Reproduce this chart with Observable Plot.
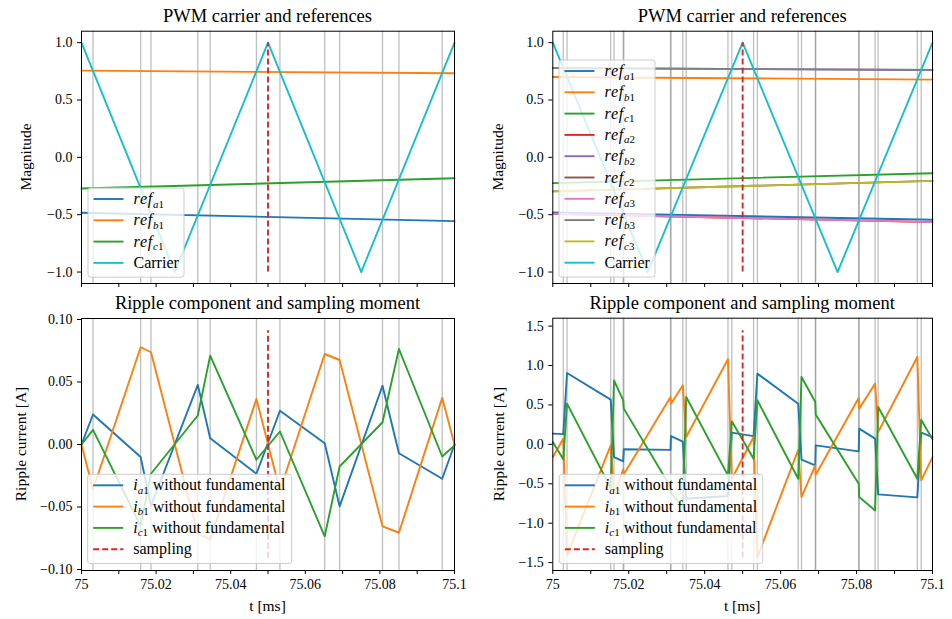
<!DOCTYPE html>
<html><head><meta charset="utf-8">
<script src="https://cdn.jsdelivr.net/npm/d3@7"></script>
<script src="https://cdn.jsdelivr.net/npm/@observablehq/plot@0.6"></script>
<style>
body{margin:0;background:#fff;}
#wrap{position:relative;width:952px;height:619px;overflow:hidden;background:#fff;}
#wrap svg{position:absolute;}
</style></head><body><div id="wrap"></div>
<script>
// ---------------- DATA ----------------
const tStart = 75, tEnd = 75.1;
const xTicks = [75, 75.01, 75.02, 75.03, 75.04, 75.05, 75.06, 75.07, 75.08, 75.09, 75.1];
const xTickLabels = ["75", "", "75.02", "", "75.04", "", "75.06", "", "75.08", "", "75.1"];

const magTicks = [1.0, 0.5, 0.0, -0.5, -1.0];
const magTickLabels = ["1.0", "0.5", "0.0", "\u22120.5", "\u22121.0"];
const rippleLTicks = [0.10, 0.05, 0.00, -0.05, -0.10];
const rippleLTickLabels = ["0.10", "0.05", "0.00", "\u22120.05", "\u22120.10"];
const rippleRTicks = [1.5, 1.0, 0.5, 0.0, -0.5, -1.0, -1.5];
const rippleRTickLabels = ["1.5", "1.0", "0.5", "0.0", "\u22120.5", "\u22121.0", "\u22121.5"];

// carrier (triangle)
const carrierT = [75, 75.025, 75.05, 75.075, 75.1];
const carrierV = [1, -1, 1, -1, 1];

// references (start / end of window)
const refT = [75, 75.1];
const refA1L = [-0.483, -0.556];
const refB1L = [0.756, 0.733];
const refC1L = [-0.272, -0.182];

const refA1R = [-0.480, -0.544];
const refB1R = [0.701, 0.678];
const refC1R = [-0.225, -0.138];
const refA2R = [-0.492, -0.565];
const refB2R = [0.779, 0.762];
const refC2R = [-0.297, -0.205];
const refA3R = [-0.492, -0.565];
const refB3R = [0.779, 0.762];
const refC3R = [-0.297, -0.205];

// sampling instant
const sampleT = 75.05;
const sampleTop = [-1, 1];
const sampleBotL = [-0.091, 0.091];
const sampleBotR = [-1.44, 1.44];

// switching instants (grey lines)
const swLeft = [75.00308, 75.01585, 75.01862, 75.03118, 75.0345, 75.0469, 75.0532, 75.0652, 75.0692, 75.0807, 75.0851, 75.0967];
const swRight = [75.00276, 75.00375, 75.01525, 75.01613, 75.01855, 75.0187, 75.031, 75.03113, 75.03425, 75.03513,
                 75.04613, 75.04715, 75.05288, 75.05388, 75.06463, 75.0655, 75.06913, 75.06925, 75.08056, 75.08069,
                 75.08488, 75.08569, 75.096, 75.09703];

// ripple currents, left (vertices at 75, swLeft..., 75.1)
const ia1L = [0, 0.024, -0.010, -0.049, 0.0477, 0.005, -0.0234, 0.027, 0.001, -0.0495, 0.047, -0.007, -0.0274, 0];
const ib1L = [0, -0.036, 0.0778, 0.0738, -0.0714, -0.0759, 0.0365, -0.037, 0.0724, 0.0676, -0.0655, -0.0706, 0.0373, 0];
const ic1L = [0, 0.0117, -0.065, -0.0234, 0.0232, 0.0711, -0.0122, 0.0104, -0.0735, -0.0176, 0.0178, 0.0764, -0.0096, -0.0008];

// ripple currents, right (vertices at 75, swRight..., 75.1)
const ia1R = [0.136, 0.13, 0.905, 0.567, -0.161, -0.216, -0.063, -0.07, 0.105, 0.035, -0.69, -0.655, 0.148, 0.105, 0.897, 0.516, -0.195, -0.267, -0.013, -0.089, 0.199, 0.072, -0.635, -0.673, 0.148, 0.093];
const ib1R = [-0.161, 0.072, -1.41, -0.013, -0.64, -0.32, -0.38, 0.60, 0.516, 0.749, 0.093, 1.08, -0.436, 0.093, -1.431, -0.07, -0.669, -0.267, -0.385, 0.588, 0.453, 0.77, 0.157, 1.108, -0.457, -0.161];
const ic1R = [0.03, -0.19, 0.516, -0.554, 0.81, 0.559, 0.453, -0.54, -0.62, -0.79, 0.60, -0.394, 0.292, -0.182, 0.559, -0.436, 0.855, 0.537, 0.377, -0.499, -0.669, -0.838, 0.474, -0.436, 0.313, 0.063];

// ---------------- STYLE ----------------
const C = {blue:"#1f77b4", orange:"#ff7f0e", green:"#2ca02c", red:"#d62728", purple:"#9467bd",
           brown:"#8c564b", pink:"#e377c2", gray:"#7f7f7f", olive:"#bcbd22", cyan:"#17becf"};
const FONT = '"Liberation Serif", "Times New Roman", serif';
const LW = 1.9;

const pts = (ts, vs) => ts.map((t, i) => ({t, v: vs[i]}));
const lineMark = (ts, vs, color) => Plot.line(pts(ts, vs), {x: "t", y: "v", stroke: color, strokeWidth: LW});

const wrap = document.getElementById("wrap");

function panel(pos, ydom, yT, yL, showX, grey, marks, sampleY) {
  const xMap = new Map(xTicks.map((d, i) => [d, xTickLabels[i]]));
  const yMap = new Map(yT.map((d, i) => [d, yL[i]]));
  const svg = Plot.plot({
    width: pos.w, height: pos.h,
    marginLeft: pos.ml, marginRight: pos.mr, marginTop: pos.mt, marginBottom: pos.mb,
    x: {domain: [tStart, tEnd]},
    y: {domain: ydom},
    style: {background: "transparent", fontFamily: FONT, fontSize: "14px", color: "#000", overflow: "visible"},
    marks: [
      Plot.ruleX(grey, {stroke: "#808080", strokeOpacity: 0.5, strokeWidth: 1.3}),
      ...marks,
      Plot.ruleX([{t: sampleT, y1: sampleY[0], y2: sampleY[1]}], {x: "t", y1: "y1", y2: "y2", stroke: C.red, strokeWidth: LW, strokeDasharray: "6,3"}),
      Plot.frame({stroke: "#000", strokeWidth: 1}),
      Plot.axisX(xTicks, {tickSize: 4, tickPadding: 5, tickFormat: showX ? (d => xMap.get(d)) : (() => ""), label: null, fontSize: 14}),
      Plot.axisY(yT, {tickSize: 4, tickPadding: 5, tickFormat: d => yMap.get(d), label: null, fontSize: 14})
    ]
  });
  svg.style.left = pos.x + "px";
  svg.style.top = pos.y + "px";
  wrap.appendChild(svg);
}

// top-left
panel({x: 0, y: 0, w: 476, h: 300, ml: 81, mr: 22, mt: 30.7, mb: 17}, [-1.1, 1.1], magTicks, magTickLabels, false, swLeft, [
  lineMark(refT, refA1L, C.blue),
  lineMark(refT, refB1L, C.orange),
  lineMark(refT, refC1L, C.green),
  lineMark(carrierT, carrierV, C.cyan)
], sampleTop);

// top-right
panel({x: 476, y: 0, w: 476, h: 300, ml: 76.3, mr: 20, mt: 30.7, mb: 17}, [-1.1, 1.1], magTicks, magTickLabels, false, swRight, [
  lineMark(refT, refA1R, C.blue),
  lineMark(refT, refB1R, C.orange),
  lineMark(refT, refC1R, C.green),
  lineMark(refT, refA2R, C.red),
  lineMark(refT, refB2R, C.purple),
  lineMark(refT, refC2R, C.brown),
  lineMark(refT, refA3R, C.pink),
  lineMark(refT, refB3R, C.gray),
  lineMark(refT, refC3R, C.olive),
  lineMark(carrierT, carrierV, C.cyan)
], sampleTop);

const tL = [tStart, ...swLeft, tEnd];
const tR = [tStart, ...swRight, tEnd];

// bottom-left
panel({x: 0, y: 300, w: 476, h: 319, ml: 81, mr: 22, mt: 18, mb: 49}, [-0.1008, 0.1008], rippleLTicks, rippleLTickLabels, true, swLeft, [
  lineMark(tL, ia1L, C.blue),
  lineMark(tL, ib1L, C.orange),
  lineMark(tL, ic1L, C.green)
], sampleBotL);

// bottom-right
panel({x: 476, y: 300, w: 476, h: 319, ml: 76.3, mr: 20, mt: 17.7, mb: 49}, [-1.6, 1.6], rippleRTicks, rippleRTickLabels, true, swRight, [
  lineMark(tR, ia1R, C.blue),
  lineMark(tR, ib1R, C.orange),
  lineMark(tR, ic1R, C.green)
], sampleBotR);

// ---------------- OVERLAY: titles, labels, legends ----------------
const ov = d3.select(wrap).append("svg")
  .attr("width", 952).attr("height", 619)
  .style("left", "0px").style("top", "0px")
  .style("font-family", FONT);

function txt(x, y, s, size, rot) {
  const t = ov.append("text").attr("x", x).attr("y", y).attr("text-anchor", "middle")
    .attr("font-size", size).attr("fill", "#000").text(s);
  if (rot) t.attr("transform", `rotate(-90 ${x} ${y})`);
  return t;
}
txt(267.5, 22, "PWM carrier and references", 18.5);
txt(742.2, 22, "PWM carrier and references", 18.5);
txt(267.5, 309, "Ripple component and sampling moment", 18.5);
txt(742.2, 309, "Ripple component and sampling moment", 18.5);
txt(267.5, 611, "t [ms]", 15.5);
txt(742.2, 611, "t [ms]", 15.5);
txt(31, 157, "Magnitude", 15.5, true);
txt(503, 157, "Magnitude", 15.5, true);
txt(26, 444, "Ripple current [A]", 15.5, true);
txt(503.5, 444, "Ripple current [A]", 15.5, true);

function legend(x, y, w, rows, entries) {
  const g = ov.append("g");
  const h = rows * 21.3 + 4;
  g.append("rect").attr("x", x).attr("y", y).attr("width", w).attr("height", h)
    .attr("rx", 2.5).attr("fill", "#fff").attr("fill-opacity", 0.8)
    .attr("stroke", "#cccccc").attr("stroke-width", 1);
  entries.forEach((e, i) => {
    const cy = y + 11 + i * 21.3;
    g.append("line").attr("x1", x + 5.5).attr("x2", x + 35.5).attr("y1", cy).attr("y2", cy)
      .attr("stroke", e.color).attr("stroke-width", LW)
      .attr("stroke-dasharray", e.dash ? "6,3" : null);
    const t = g.append("text").attr("x", x + 45.5).attr("y", cy + 5).attr("font-size", 16).attr("fill", "#000");
    if (e.sym) {
      t.append("tspan").attr("font-style", "italic").attr("letter-spacing", e.sym.length > 1 ? 0.8 : 0).text(e.sym);
      t.append("tspan").attr("font-style", "italic").attr("font-size", 11).attr("dy", 3.5).text(e.sub);
      t.append("tspan").attr("font-size", 11).text(e.num);
      if (e.rest) t.append("tspan").attr("dy", -3.5).text(e.rest);
    } else {
      t.text(e.text);
    }
  });
}

legend(88, 188, 96, 4, [
  {sym: "ref", sub: "a", num: "1", color: C.blue},
  {sym: "ref", sub: "b", num: "1", color: C.orange},
  {sym: "ref", sub: "c", num: "1", color: C.green},
  {text: "Carrier", color: C.cyan}
]);
legend(559, 60, 96, 10, [
  {sym: "ref", sub: "a", num: "1", color: C.blue},
  {sym: "ref", sub: "b", num: "1", color: C.orange},
  {sym: "ref", sub: "c", num: "1", color: C.green},
  {sym: "ref", sub: "a", num: "2", color: C.red},
  {sym: "ref", sub: "b", num: "2", color: C.purple},
  {sym: "ref", sub: "c", num: "2", color: C.brown},
  {sym: "ref", sub: "a", num: "3", color: C.pink},
  {sym: "ref", sub: "b", num: "3", color: C.gray},
  {sym: "ref", sub: "c", num: "3", color: C.olive},
  {text: "Carrier", color: C.cyan}
]);
const iEntries = [
  {sym: "i", sub: "a", num: "1", rest: " without fundamental", color: C.blue},
  {sym: "i", sub: "b", num: "1", rest: " without fundamental", color: C.orange},
  {sym: "i", sub: "c", num: "1", rest: " without fundamental", color: C.green},
  {text: "sampling", color: C.red, dash: true}
];
legend(87.7, 474.3, 204, 4, iEntries);
legend(559.3, 474.3, 203.4, 4, iEntries);
</script></body></html>
